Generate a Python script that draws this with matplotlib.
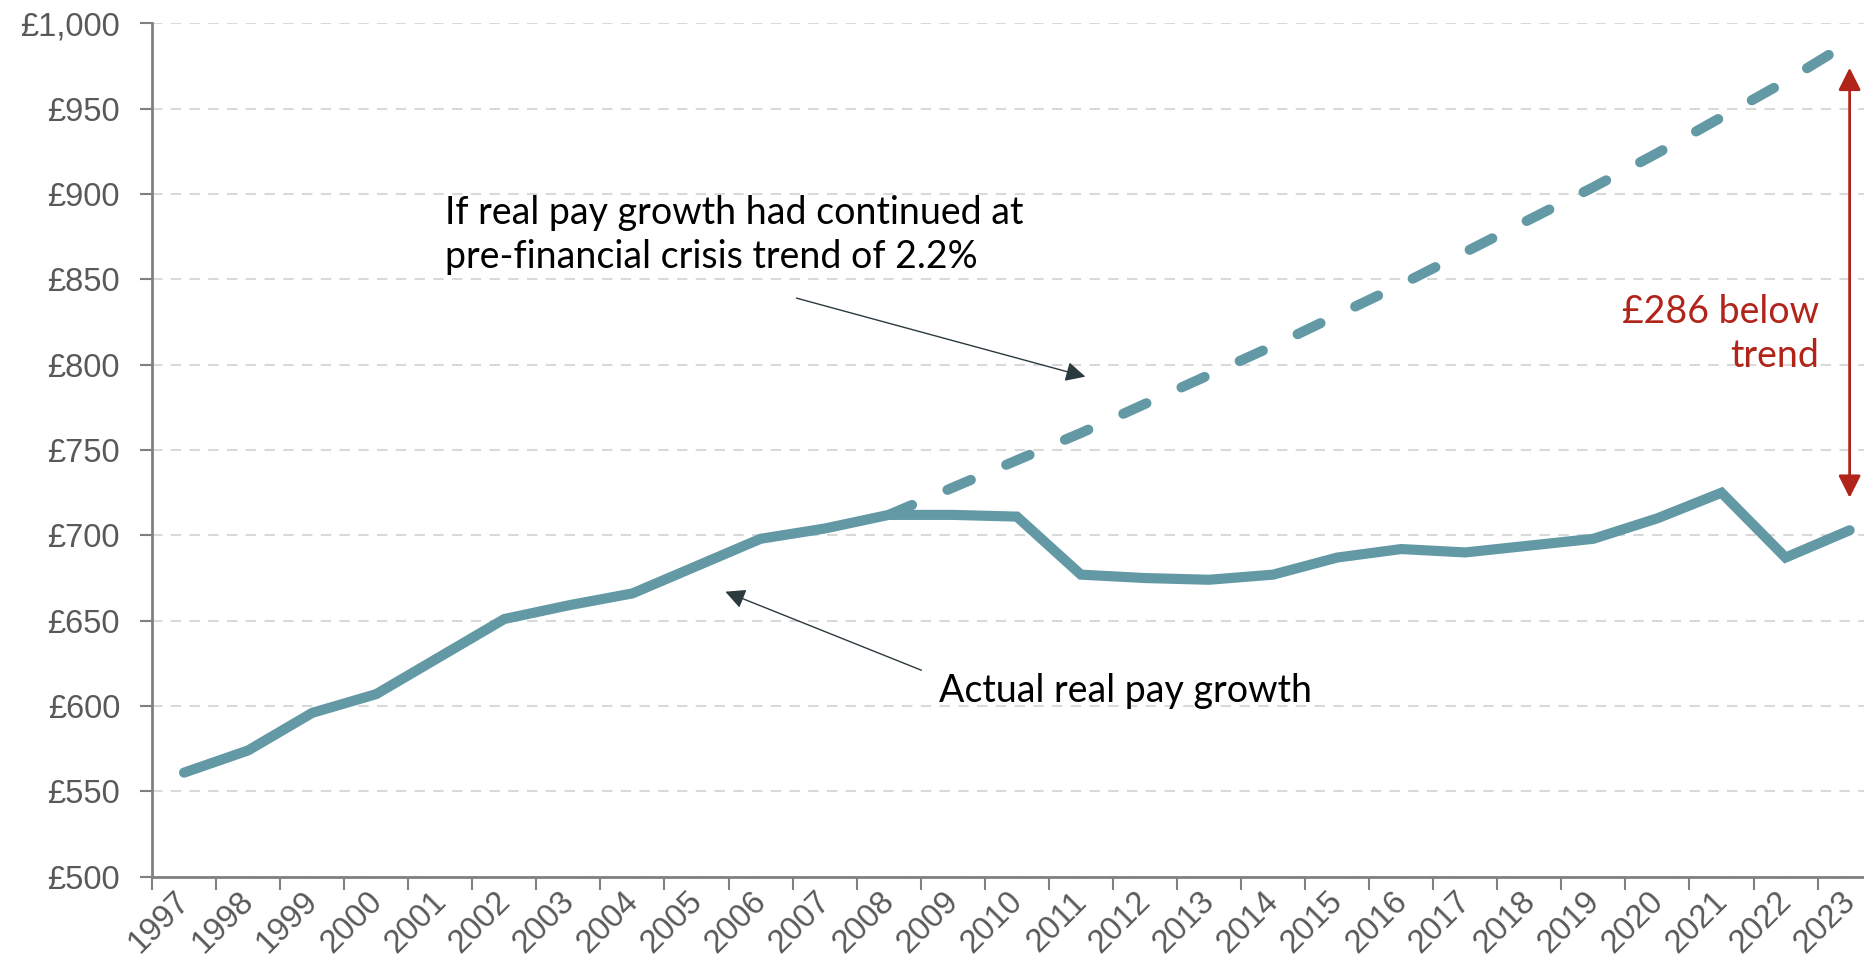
import numpy as np
import matplotlib.pyplot as plt
import matplotlib.transforms as mtransforms
from matplotlib.ticker import FixedLocator, FuncFormatter

# weekly real pay, £
years = list(range(1997, 2024))
actual = [561, 574, 596, 607, 629, 651, 659, 666, 682, 698, 704, 712, 712, 711,
          677, 675, 674, 677, 687, 692, 690, 694, 698, 710, 725, 687, 703]
trend_years = list(range(2008, 2024))
trend = [712, 728, 744, 760, 777, 794, 811, 829, 847, 866, 885, 904, 924, 945, 966, 989]

trend_label = "If real pay growth had continued at\npre-financial crisis trend of 2.2%"
actual_label = "Actual real pay growth"
gap_label = "£286 below\ntrend"

teal = "#6299a5"
red = "#b0241a"
grey = "#595959"

fig = plt.figure(figsize=(18.65, 9.72), dpi=100)
ax = fig.add_axes([0.0815, 0.098, 1 - 0.0815, 0.878])

ax.plot(trend_years, trend, color=teal, lw=7.3, dashes=(2.5, 3.8),
        dash_capstyle='round', solid_capstyle='round')
ax.plot(years, actual, color=teal, lw=7.3, solid_capstyle='round',
        solid_joinstyle='miter')

ax.set_xlim(1996.5, 2023.24)
ax.set_ylim(500, 1000)

# ticks
ax.xaxis.set_major_locator(FixedLocator(years))
ax.xaxis.set_minor_locator(FixedLocator([y - 0.5 for y in years]))
ax.set_xticklabels([str(y) for y in years], rotation=45, ha='right',
                   rotation_mode='anchor')
ax.tick_params(axis='x', which='major', length=0, pad=8, labelsize=23.5, labelcolor=grey)
ax.tick_params(axis='x', which='minor', length=9, width=1.5, color='#808080')
ax.set_yticks(np.arange(500, 1001, 50))
ax.yaxis.set_major_formatter(FuncFormatter(lambda v, p: "£{:,.0f}".format(v)))
ax.tick_params(axis='y', length=9, width=1.5, color='#808080', pad=14,
               labelsize=23.5, labelcolor=grey)
for lab in ax.get_xticklabels() + ax.get_yticklabels():
    lab.set_fontfamily('Liberation Sans')
shift = mtransforms.ScaledTranslation(-0.1, 0.02, fig.dpi_scale_trans)
for lab in ax.get_xticklabels():
    lab.set_transform(lab.get_transform() + shift)

for s in ['top', 'right']:
    ax.spines[s].set_visible(False)
for s in ['left', 'bottom']:
    ax.spines[s].set_color('#808080')
    ax.spines[s].set_linewidth(2)

ax.yaxis.grid(True, color='#d9d9d9', lw=1.5, dashes=(5, 4))
ax.set_axisbelow(True)

# annotations
ax.annotate("", xy=(2011.07, 793), xytext=(2006.56, 839),
            arrowprops=dict(arrowstyle='-|>', color='#2b3a3f', lw=1,
                            mutation_scale=30, shrinkA=0, shrinkB=0))
ax.text(2001.07, 876, trend_label, fontsize=27, family='Lato', va='center',
        ha='left', linespacing=1.3, color='black')

ax.annotate("", xy=(2005.45, 667), xytext=(2008.51, 621),
            arrowprops=dict(arrowstyle='-|>', color='#2b3a3f', lw=1,
                            mutation_scale=30, shrinkA=0, shrinkB=0))
ax.text(2008.79, 609, actual_label, fontsize=27, family='Lato', va='center',
        ha='left', color='black')

ax.annotate("", xy=(2023, 974), xytext=(2023, 722),
            arrowprops=dict(arrowstyle='<|-|>', color=red, lw=2,
                            mutation_scale=34, shrinkA=0, shrinkB=0))
ax.text(2022.53, 818, gap_label, fontsize=27, family='Lato', va='center',
        ha='right', linespacing=1.3, color=red)

fig.savefig("out.png", dpi=100)
